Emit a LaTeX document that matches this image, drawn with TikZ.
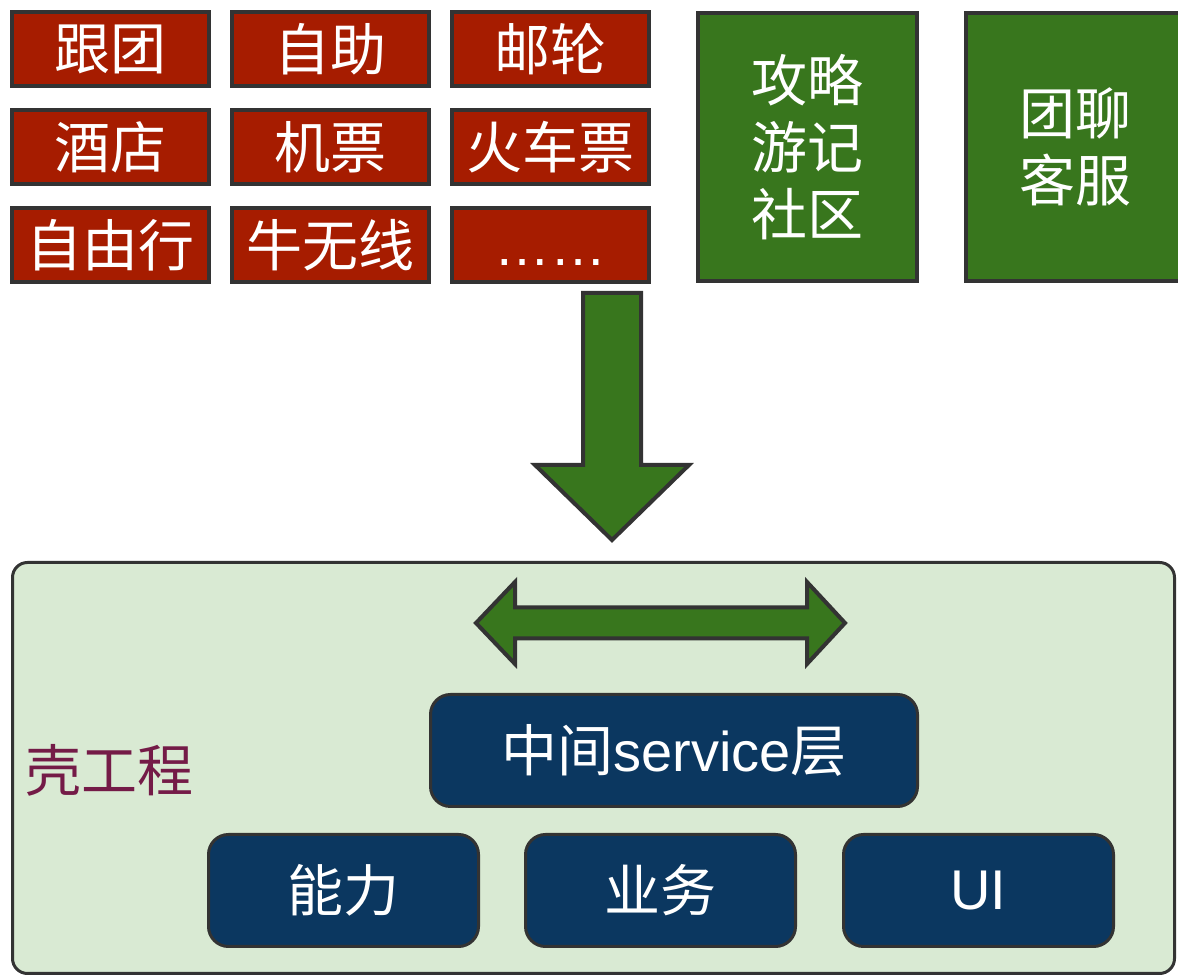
\documentclass[tikz,border=0pt]{standalone}
\usepackage{fontspec}
\setmainfont{Liberation Sans}
\newfontfamily\cjk{Noto Sans CJK SC}
\usetikzlibrary{positioning,calc}

\definecolor{edgegray}{RGB}{51,51,51}
\definecolor{tagred}{RGB}{166,28,0}
\definecolor{leafgreen}{RGB}{56,118,29}
\definecolor{palegreen}{RGB}{217,234,211}
\definecolor{navy}{RGB}{11,55,96}
\definecolor{plum}{RGB}{116,27,71}

\begin{document}
\begin{tikzpicture}[x=1pt, y=1pt,
    tag/.style={rectangle, draw=edgegray, line width=4pt, fill=tagred, text=white, inner sep=0pt,
        minimum width=197pt, minimum height=74pt, font=\cjk\fontsize{56}{67}\selectfont},
    tall/.style={rectangle, draw=edgegray, line width=4pt, fill=leafgreen, text=white, inner sep=0pt,
        minimum width=219pt, minimum height=268pt, align=center, font=\cjk\fontsize{56}{67}\selectfont},
    layer/.style={rectangle, rounded corners=20pt, draw=edgegray, line width=3pt, fill=navy, text=white,
        inner sep=0pt, minimum width=270pt, minimum height=112pt, font=\cjk\fontsize{56}{67}\selectfont},
    fat/.style={draw=edgegray, line width=4pt, fill=leafgreen, line join=miter}
]
    \useasboundingbox (0,0) rectangle (1178,976);

    % Product lines
    \foreach \nm/\txt/\col/\row in {group/跟团/0/0, diy/自助/1/0, cruise/邮轮/2/0,
        hotel/酒店/0/1, flight/机票/1/1, train/火车票/2/1,
        free/自由行/0/2, wifi/牛无线/1/2, more/{{\rmfamily ……}\vphantom{跟}}/2/2} {
        \node[tag] (\nm) at (110.5+220*\col, 927-98*\row) {\txt};
    }

    % Community and chat
    \node[tall] (guide) at (807.5,829) {攻略\\游记\\社区};
    \node[tall] (chat) at (1075.5,829) {团聊\\客服};

    % Shell project
    \node[rectangle, rounded corners=15pt, draw=edgegray, line width=3pt, fill=palegreen,
        minimum width=1162pt, minimum height=411pt] (shell) at (593.5,208) {};
    \node[anchor=west, text=plum, inner sep=0pt, font=\cjk\fontsize{56}{67}\selectfont]
        (shelllabel) at ($(shell.west)+(14,-2)$) {壳工程};

    \node[layer] (ability) at (343.5,85.5) {能力};
    \node[layer, right=44pt of ability] (business) {业务};
    \node[layer, right=45pt of business] (ui) {\rmfamily UI};
    \node[layer, minimum width=487pt, above=25pt of business, xshift=13.5pt] (service)
        {中间{\rmfamily service}层};

    % Big arrows
    \coordinate (drop) at (612,683);
    \draw[fat] (drop) ++(-29,0) -- ++(58,0) -- ++(0,-172) -- ++(48,0) -- ++(-77,-75)
        -- ++(-77,75) -- ++(48,0) -- cycle;
    \coordinate (swap) at (660.5,353);
    \draw[fat] (swap) ++(-184.5,0) -- ++(39,41) -- ++(0,-25.5) -- ++(292,0) -- ++(0,25.5)
        -- ++(38,-41) -- ++(-38,-41) -- ++(0,25.5) -- ++(-292,0) -- ++(0,-25.5) -- cycle;

\end{tikzpicture}
\end{document}
